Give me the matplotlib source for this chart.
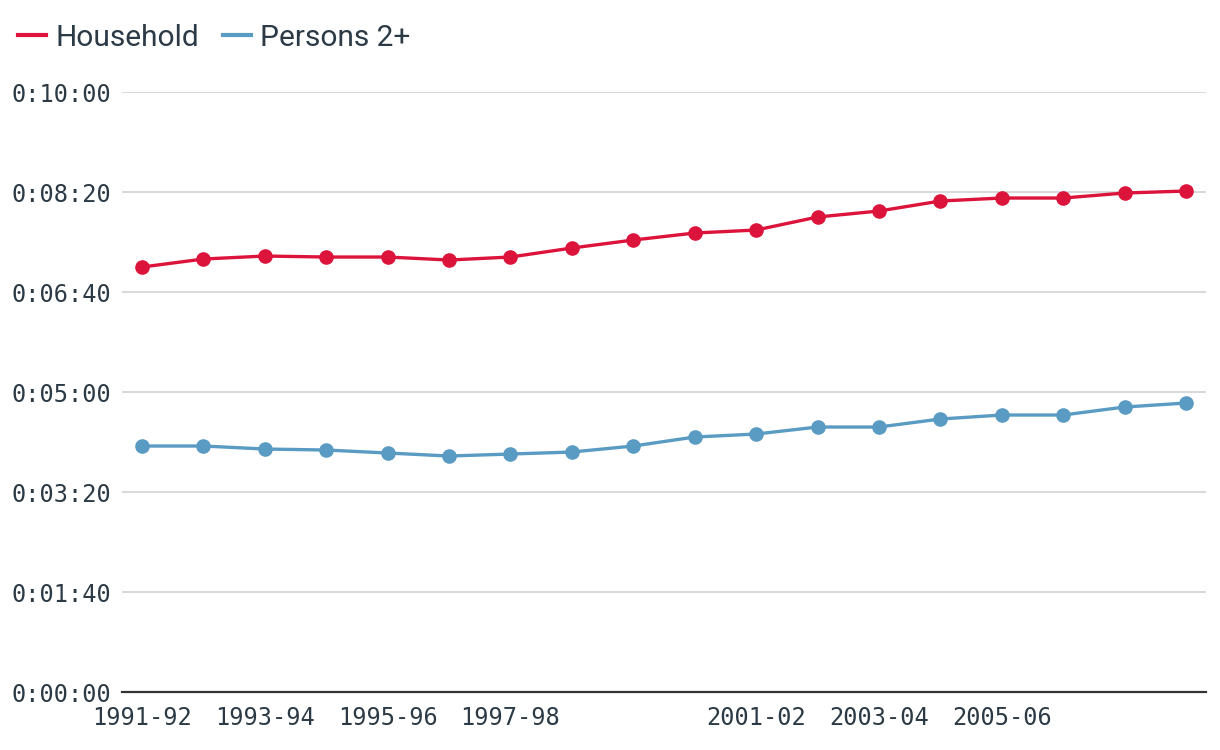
import matplotlib
matplotlib.use("Agg")
import matplotlib.pyplot as plt
from matplotlib.ticker import FuncFormatter, MultipleLocator

seasons = ["1991-92", "1992-93", "1993-94", "1994-95", "1995-96", "1996-97",
           "1997-98", "1998-99", "1999-00", "2000-01", "2001-02", "2002-03",
           "2003-04", "2004-05", "2005-06", "2006-07", "2007-08", "2008-09"]
# durations in seconds
household = [425, 433, 436, 435, 435, 432, 435, 444, 452, 459, 462, 475,
             481, 491, 494, 494, 499, 501]
persons = [246, 246, 243, 242, 239, 236, 238, 240, 246, 255, 258, 265,
           265, 273, 277, 277, 285, 289]
shown_labels = ["1991-92", "1993-94", "1995-96", "1997-98",
                "2001-02", "2003-04", "2005-06"]

text_color = "#2b3a45"
mono = "DejaVu Sans Mono"


def hms(v, pos):
    v = int(round(v))
    return "%d:%02d:%02d" % (v // 3600, (v % 3600) // 60, v % 60)


def main():
    fig = plt.figure(figsize=(12.2, 7.5), dpi=100)
    ax = fig.add_axes([0.1, 0.0773, 0.8885, 0.8])

    x = list(range(len(seasons)))
    ax.plot(x, household, color="#DC143C", lw=2.4, marker="o", ms=9.5,
            label="Household", zorder=3)
    ax.plot(x, persons, color="#5A9BC4", lw=2.4, marker="o", ms=9.5,
            label="Persons 2+", zorder=3)

    ax.set_ylim(0, 600)
    ax.set_xlim(-0.326, len(seasons) - 1 + 0.326)
    ax.yaxis.set_major_locator(MultipleLocator(100))
    ax.yaxis.set_major_formatter(FuncFormatter(hms))
    ax.grid(axis="y", color="#d3d6d9", lw=1.3)
    ax.set_axisbelow(True)

    ticks = [seasons.index(s) for s in shown_labels]
    ax.set_xticks(ticks)
    ax.set_xticklabels(shown_labels)

    for side in ["top", "right", "left"]:
        ax.spines[side].set_visible(False)
    ax.spines["bottom"].set_color("#333333")
    ax.spines["bottom"].set_linewidth(1.6)
    ax.tick_params(axis="both", length=0, labelsize=17, labelcolor=text_color)
    ax.tick_params(axis="y", pad=8)
    ax.tick_params(axis="x", pad=10)
    for lab in ax.get_xticklabels() + ax.get_yticklabels():
        lab.set_fontfamily(mono)

    leg = fig.legend(loc="upper left", bbox_to_anchor=(0.0, 0.992), ncol=2,
                     frameon=False, handlelength=0.95, handletextpad=0.3,
                     columnspacing=0.8, borderaxespad=0.2,
                     prop={"family": "Roboto", "size": 21.5})
    for t in leg.get_texts():
        t.set_color(text_color)
    for h in leg.legend_handles:
        h.set_marker("")
        h.set_linewidth(3)

    fig.savefig("out.png", dpi=100)
    plt.close(fig)


if __name__ == "__main__":
    main()
